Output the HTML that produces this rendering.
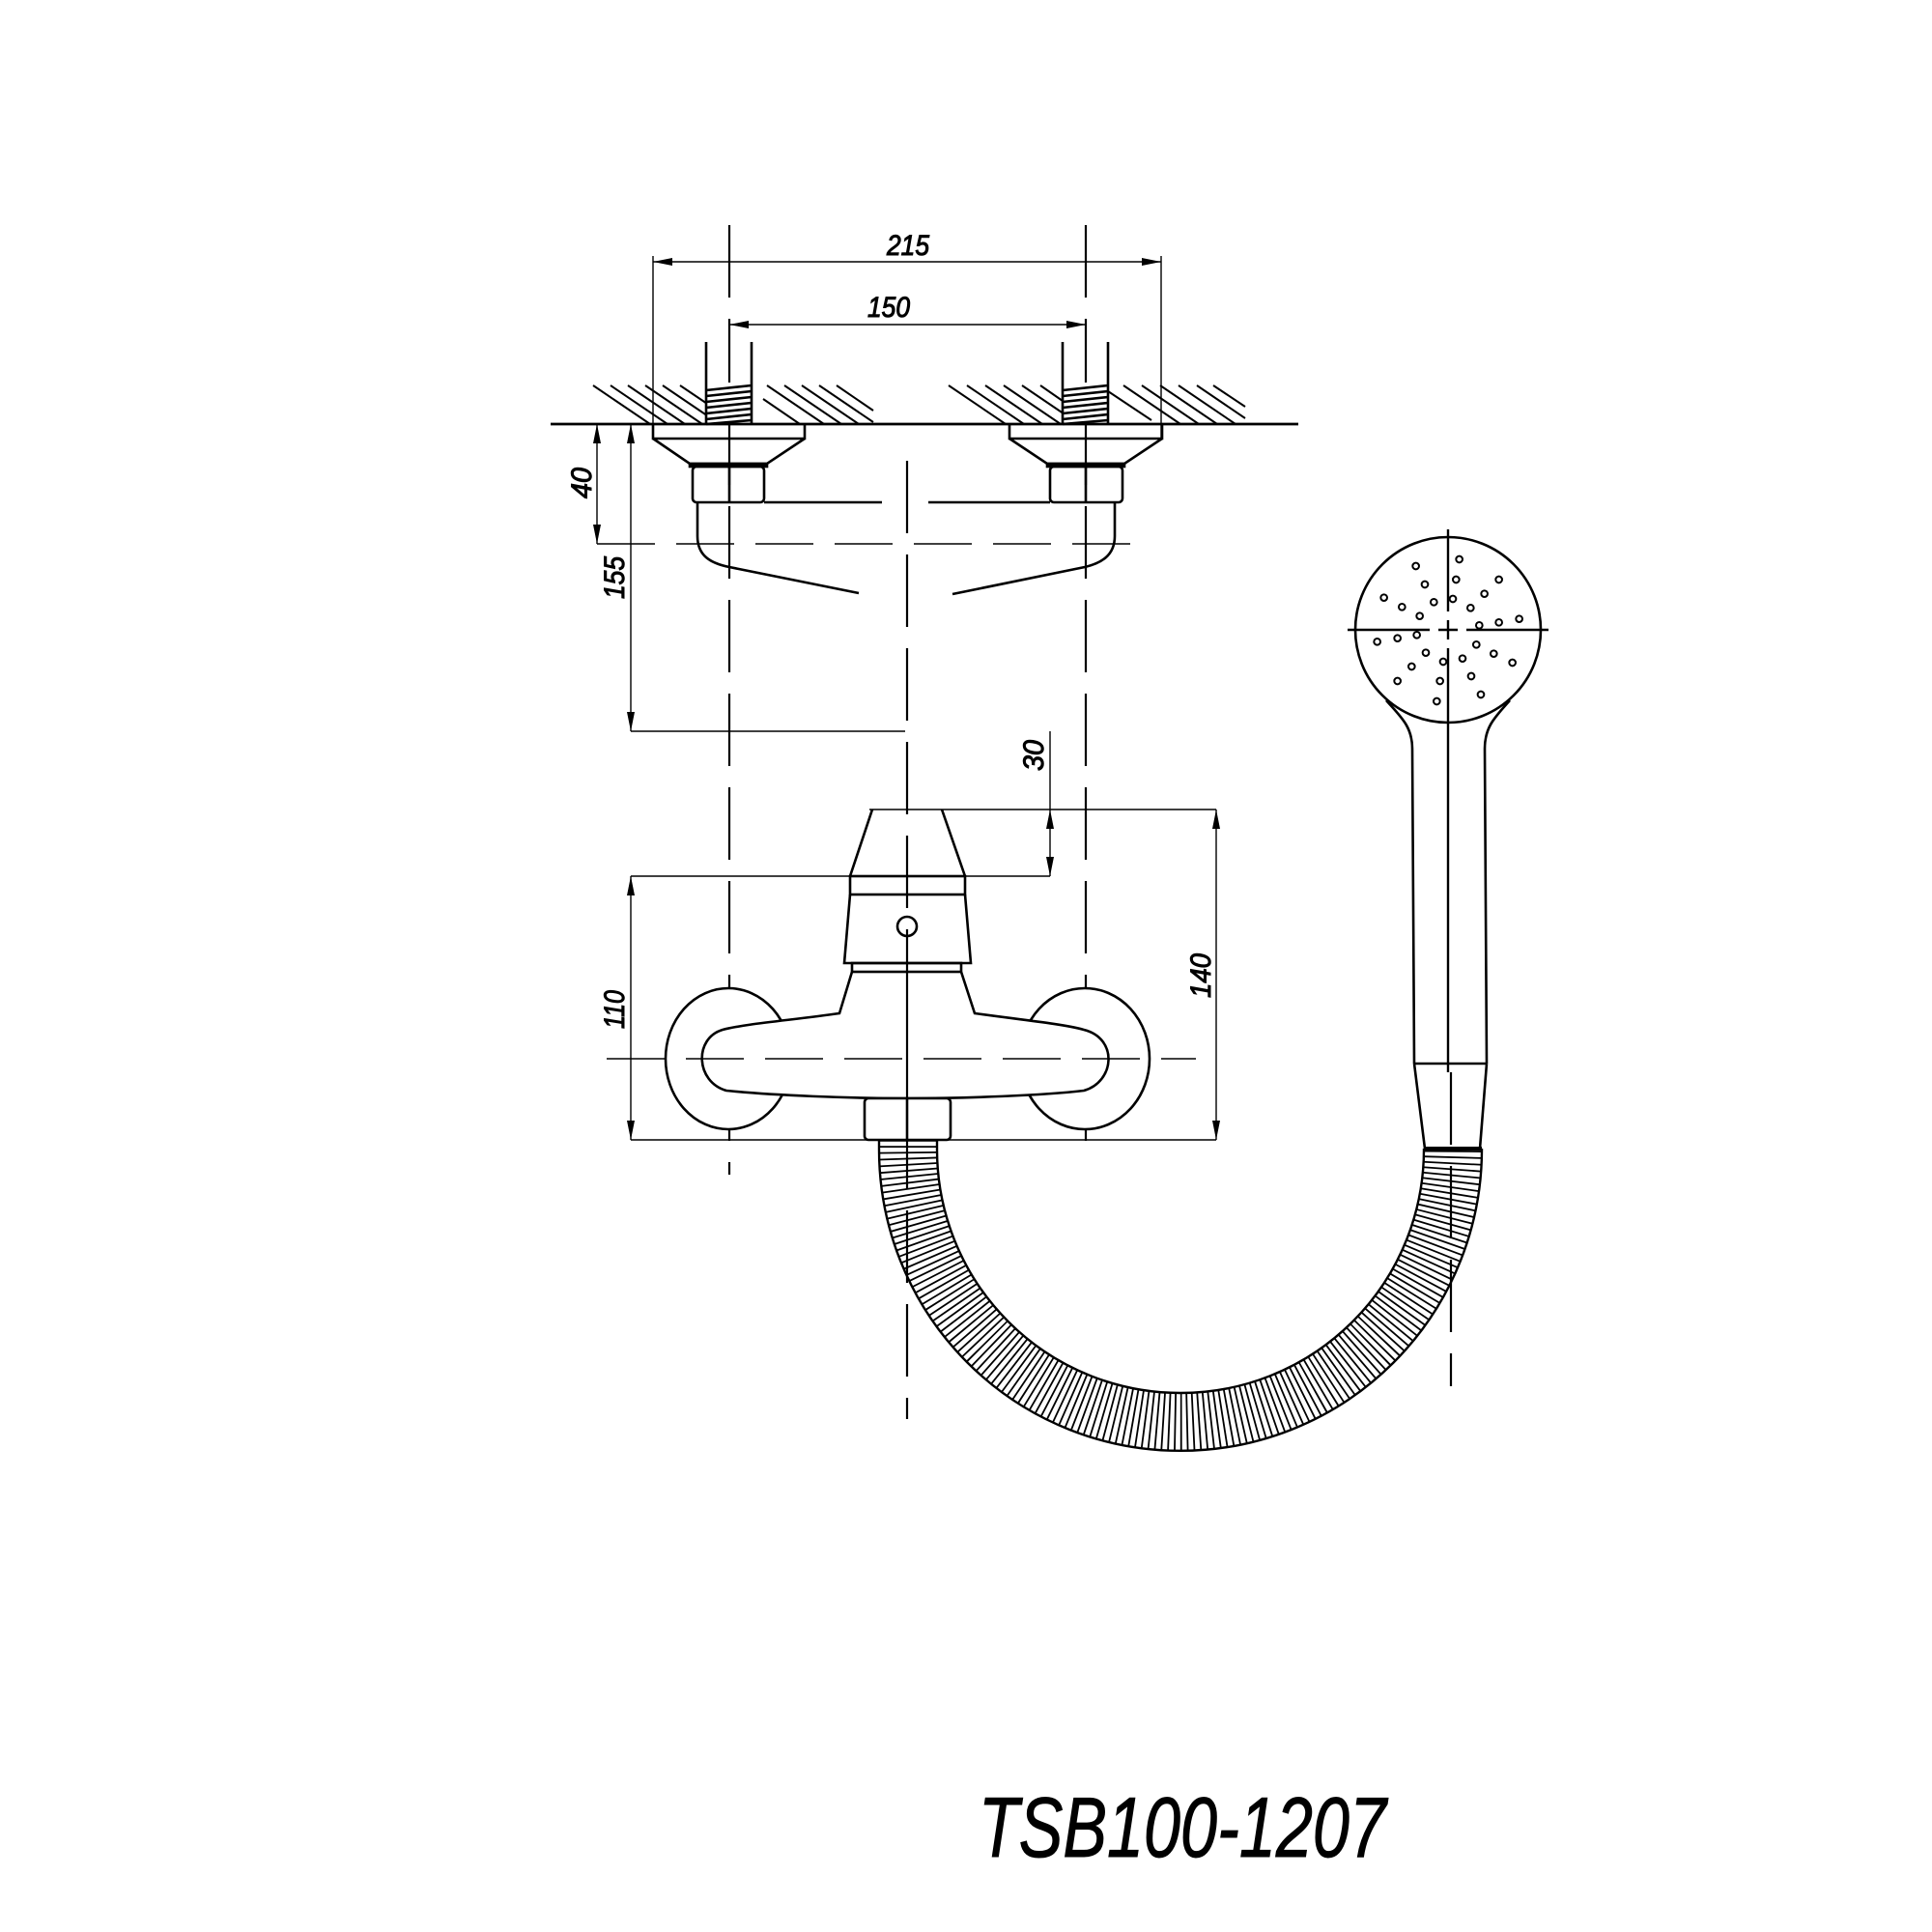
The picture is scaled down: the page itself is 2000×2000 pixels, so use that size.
<!DOCTYPE html>
<html><head><meta charset="utf-8"><style>html,body{margin:0;padding:0;background:#fff}svg{display:block}</style></head>
<body>
<svg width="2000" height="2000" viewBox="0 0 2000 2000" xmlns="http://www.w3.org/2000/svg">
<defs>
<marker id="ar" viewBox="0 0 20 8" refX="20" refY="4" markerWidth="20" markerHeight="8" markerUnits="userSpaceOnUse" orient="auto-start-reverse"><path d="M0,0 L20,4 L0,8 Z" fill="#000"/></marker>
</defs>
<g fill="none" stroke="#000" stroke-linecap="butt">
<!-- centerlines -->
<g stroke-width="2.2" stroke-dasharray="75 22">
<line x1="755" y1="233" x2="755" y2="1216"/>
<line x1="1124" y1="233" x2="1124" y2="1199"/>
<line x1="939" y1="477" x2="939" y2="1469"/>
<line x1="1502" y1="1110" x2="1502" y2="1435"/>
</g>
<line x1="618" y1="563" x2="1173" y2="563" stroke-width="1.4" stroke-dasharray="60 22"/>

<!-- dimensions -->
<g stroke-width="1.4">
<line x1="676" y1="271" x2="1202" y2="271" marker-start="url(#ar)" marker-end="url(#ar)"/>
<line x1="676" y1="265" x2="676" y2="454"/>
<line x1="1202" y1="265" x2="1202" y2="454"/>
<line x1="755" y1="336" x2="1124" y2="336" marker-start="url(#ar)" marker-end="url(#ar)"/>
<line x1="618" y1="439" x2="618" y2="563" marker-start="url(#ar)" marker-end="url(#ar)"/>
<line x1="653" y1="439" x2="653" y2="757" marker-start="url(#ar)" marker-end="url(#ar)"/>
<line x1="653" y1="757" x2="937" y2="757"/>
<line x1="1087" y1="757" x2="1087" y2="838"/>
<line x1="1087" y1="858" x2="1087" y2="838" marker-end="url(#ar)"/>
<line x1="1087" y1="887" x2="1087" y2="907" marker-end="url(#ar)"/>
<line x1="1087" y1="858" x2="1087" y2="887"/>
<line x1="900" y1="838" x2="1259" y2="838"/>
<line x1="653" y1="907" x2="1087" y2="907"/>
<line x1="653" y1="907" x2="653" y2="1180" marker-start="url(#ar)" marker-end="url(#ar)"/>
<line x1="1259" y1="838" x2="1259" y2="1180" marker-start="url(#ar)" marker-end="url(#ar)"/>
<line x1="653" y1="1180" x2="1259" y2="1180"/>
</g>

<!-- hatching -->
<g stroke-width="2">
<path d="M614,399 l59,40 M632,399 l59,40 M650,399 l59,40 M668,399 l59,40 M686,399 l59,40 M704,399 l40,27 M790,413 l38,26 M794,399 l59,40 M812,399 l59,40 M830,399 l59,40 M848,399 l56,38 M866,399 l38,26"/>
<path d="M982,399 l59,40 M1001,399 l59,40 M1020,399 l59,40 M1039,399 l59,40 M1058,399 l59,40 M1077,399 l23,16 M1147,405 l45,30 M1163,399 l59,40 M1182,399 l59,40 M1201,399 l59,40 M1220,399 l59,40 M1239,399 l50,34 M1256,399 l33,22"/>
</g>
<rect x="732" y="396" width="45" height="42" fill="#fff" stroke="none"/>
<rect x="1101" y="396" width="45" height="42" fill="#fff" stroke="none"/>
<g stroke-width="2.6">
<path d="M731,354 V439 M778,354 V439 M1100,354 V439 M1147,354 V439"/>
<path d="M731,404 L778,399 M731,410 L778,405 M731,416 L778,411 M731,422 L778,417 M731,428 L778,423 M731,434 L778,429 M731,439 L778,435"/>
<path d="M1100,404 L1147,399 M1100,410 L1147,405 M1100,416 L1147,411 M1100,422 L1147,417 M1100,428 L1147,423 M1100,434 L1147,429 M1100,439 L1147,435"/>
<line x1="570" y1="439" x2="1344" y2="439" stroke-width="2.8"/>

<!-- escutcheons top -->
<path d="M676,439 V454 H833 V439 M676,454 L714,480 H794 L833,454"/>
<path d="M1045,439 V454 H1203 V439 M1045,454 L1084,480 H1164 L1203,454"/>
<rect x="714" y="480" width="80" height="3" fill="#000"/>
<rect x="1084" y="480" width="80" height="3" fill="#000"/>
<rect x="717" y="483" width="74" height="37" rx="4"/>
<rect x="1087" y="483" width="75" height="37" rx="4"/>
<path d="M755,483 V520 M1124,483 V520"/>
<path d="M791,520 H913 M961,520 H1087"/>
<path d="M722,520 V555 C722,575 735,583 755,587 L889,614"/>
<path d="M1154,520 V555 C1154,575 1140,583 1123,587 L986,615"/>

<!-- escutcheon ellipses -->
<ellipse cx="754" cy="1096" rx="65" ry="73" fill="#fff"/>
<ellipse cx="1123" cy="1096" rx="67" ry="73" fill="#fff"/>
<path fill="#fff" d="M882,1006 L869,1049 C820,1056 770,1060 748,1066 C718,1075 720,1120 752,1129 C800,1134 880,1137 939,1137 C1000,1137 1080,1134 1122,1129 C1154,1120 1158,1075 1122,1066 C1100,1060 1060,1056 1009,1049 L995,1006"/>
<line x1="939" y1="1006" x2="939" y2="1137" stroke-width="2.2"/>

<!-- handle -->
<path d="M903,838 L880,907 M975,838 L999,907"/>
<rect x="880" y="907" width="119" height="19"/>
<path d="M880,926 L874,997 H1005 L999,926"/>
<rect x="882" y="997" width="113" height="9"/>
<circle cx="939" cy="959" r="10"/>
<rect x="895" y="1137" width="89" height="43" rx="4" fill="#fff"/>
<line x1="939" y1="1137" x2="939" y2="1180"/>
</g>
<line x1="628" y1="1096" x2="1238" y2="1096" stroke-width="1.4" stroke-dasharray="60 22"/>

<!-- hose -->
<g fill="none" stroke="#000">
<path d="M940,1180 V1190 A282,282 0 0 0 1504,1190 V1189" stroke-width="60" stroke-dasharray="1.8 4.4"/>
<path d="M910,1180 V1190 A312,312 0 0 0 1534,1190 V1189" stroke-width="2.4"/>
<path d="M970,1180 V1190 A252,252 0 0 0 1474,1190 V1189" stroke-width="2.4"/>
<line x1="1474" y1="1189" x2="1534" y2="1189" stroke-width="4"/>
</g>

<!-- shower -->
<g fill="none" stroke="#000" stroke-width="2.6">
<path d="M1464,1101 L1475,1189 M1539,1101 L1532,1189 M1464,1101 H1539"/>
<path d="M1435,725 C1450,742 1462,752 1462,775 L1464,1101 M1563,725 C1548,742 1537,752 1537,775 L1539,1101"/>
<circle cx="1499" cy="652" r="96" fill="#fff"/>
<path d="M1395,652 H1480 M1489,652 H1509 M1518,652 H1603 M1499,548 V633 M1499,642 V662 M1499,671 V1110" stroke-width="2.4"/>
<g transform="translate(1380,540) scale(0.3333)" stroke-width="6">
<circle cx="257" cy="138" r="10"/><circle cx="392" cy="117" r="10"/><circle cx="285" cy="195" r="10"/><circle cx="382" cy="180" r="10"/><circle cx="515" cy="180" r="10"/><circle cx="158" cy="236" r="10"/><circle cx="313" cy="250" r="10"/><circle cx="372" cy="240" r="10"/><circle cx="470" cy="224" r="10"/><circle cx="214" cy="265" r="10"/><circle cx="269" cy="293" r="10"/><circle cx="427" cy="268" r="10"/><circle cx="454" cy="322" r="10"/><circle cx="515" cy="313" r="10"/><circle cx="578" cy="302" r="10"/><circle cx="137" cy="373" r="10"/><circle cx="200" cy="362" r="10"/><circle cx="260" cy="352" r="10"/><circle cx="445" cy="382" r="10"/><circle cx="288" cy="407" r="10"/><circle cx="342" cy="435" r="10"/><circle cx="402" cy="425" r="10"/><circle cx="499" cy="410" r="10"/><circle cx="557" cy="438" r="10"/><circle cx="244" cy="450" r="10"/><circle cx="429" cy="480" r="10"/><circle cx="200" cy="495" r="10"/><circle cx="332" cy="495" r="10"/><circle cx="459" cy="537" r="10"/><circle cx="322" cy="558" r="10"/>
</g>
</g>

<!-- labels -->
<g font-family="Liberation Sans, sans-serif" font-style="italic" font-size="30" fill="#000" text-anchor="middle">
<text x="940" y="264" textLength="44" lengthAdjust="spacingAndGlyphs">215</text>
<text x="920" y="328" textLength="44" lengthAdjust="spacingAndGlyphs">150</text>
<text transform="translate(612,500) rotate(-90)" textLength="32" lengthAdjust="spacingAndGlyphs">40</text>
<text transform="translate(646,598) rotate(-90)" textLength="44" lengthAdjust="spacingAndGlyphs">155</text>
<text transform="translate(1080,782) rotate(-90)" textLength="32" lengthAdjust="spacingAndGlyphs">30</text>
<text transform="translate(646,1045) rotate(-90)" textLength="40" lengthAdjust="spacingAndGlyphs">110</text>
<text transform="translate(1253,1010) rotate(-90)" textLength="46" lengthAdjust="spacingAndGlyphs">140</text>
<text x="1224" y="1922" font-size="88" textLength="422" lengthAdjust="spacingAndGlyphs">TSB100-1207</text>
</g>
</svg>
</body></html>
